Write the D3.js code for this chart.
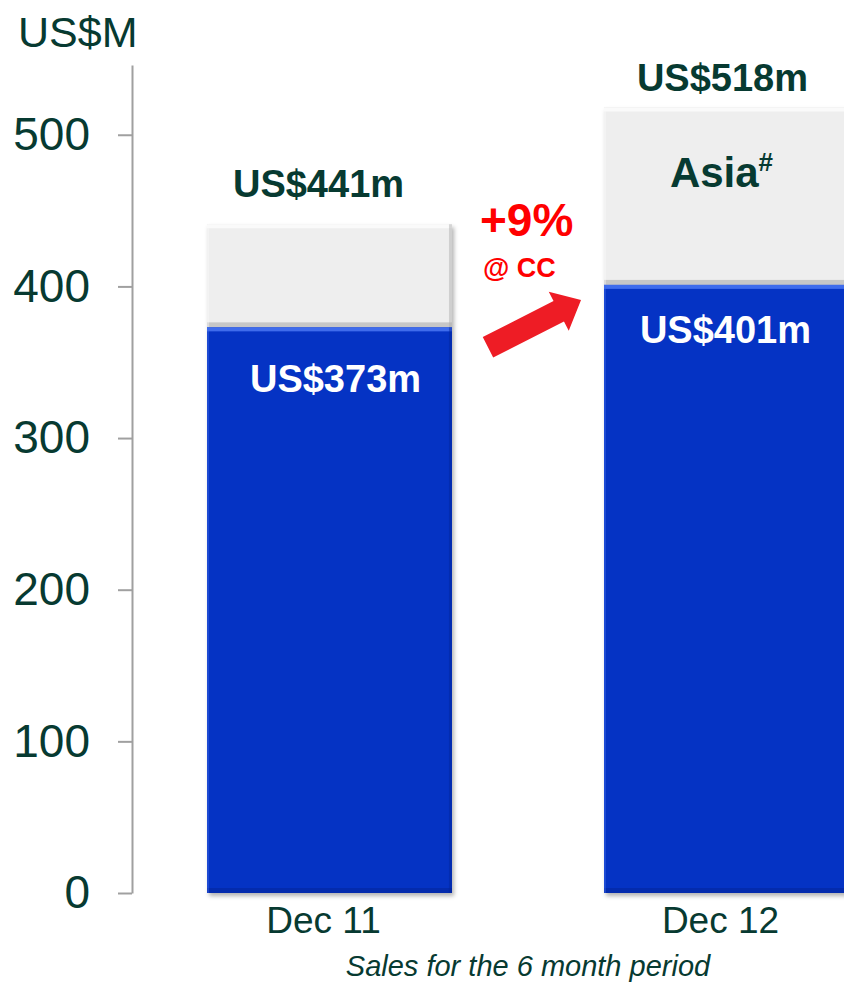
<!DOCTYPE html>
<html>
<head>
<meta charset="utf-8">
<script src="https://cdn.jsdelivr.net/npm/d3@7"></script>
<style>
  html, body { margin: 0; padding: 0; background: #fff; }
  svg { display: block; font-family: "Liberation Sans", Arial, sans-serif; }
</style>
</head>
<body>
<svg class="chart"></svg>
<script>
// data
var periods = ['Dec 11', 'Dec 12'];
var coreSales = [373, 401];      // blue part
var asiaSales = [68, 117];       // grey part (Asia#)
var totalSales = [441, 518];
var yTicks = [0, 100, 200, 300, 400, 500];
var growthText = '+9%';
var growthNote = '@ CC';

var textColor = '#073a31';
var blue = '#0533c4';
var grey = '#eeeeee';

var width = 844, height = 984;

var svg = d3.select('.chart')
    .attr('width', width)
    .attr('height', height);

var defs = svg.append('defs');

var shadow = defs.append('filter')
    .attr('id', 'shadow')
    .attr('x', '-10%').attr('y', '-10%')
    .attr('width', '130%').attr('height', '130%');
shadow.append('feDropShadow')
    .attr('dx', 2).attr('dy', 3)
    .attr('stdDeviation', 2)
    .attr('flood-color', '#000')
    .attr('flood-opacity', 0.3);

// y – sales scale
var y = d3.scaleLinear()
    .domain([0, 546])
    .range([893, 65]);

// x – period scale
var x = d3.scaleBand()
    .domain(periods)
    .range([132, 924])
    .paddingInner(0.383)
    .paddingOuter(0.189);

var yAxis = d3.axisLeft(y)
    .tickValues(yTicks)
    .tickSize(14)
    .tickSizeOuter(0)
    .tickPadding(28);

var axis = svg.append('g')
    .attr('class', 'y axis')
    .attr('transform', 'translate(132,0)')
    .call(yAxis);

axis.selectAll('path, line')
    .attr('stroke', '#a0a0a0')
    .attr('stroke-width', 2);
axis.selectAll('text')
    .attr('fill', textColor)
    .style('font-family', '"Liberation Sans", Arial, sans-serif')
    .style('font-size', '46px');

svg.append('text')
    .attr('x', 18)
    .attr('y', 47)
    .attr('fill', textColor)
    .style('font-size', '43px')
    .text('US$M');

// stacked bars
var rows = periods.map(function(p, i) {
  return { period: p, core: coreSales[i], asia: asiaSales[i], total: totalSales[i] };
});

var bars = svg.selectAll('g.bar')
    .data(rows)
  .enter().append('g')
    .attr('class', 'bar');

// draw one bevelled segment
function segment(g, x0, y0, y1, fill, light, dark) {
  var w = x.bandwidth(), h = y1 - y0;
  g.append('rect')
      .attr('x', x0).attr('y', y0)
      .attr('width', w).attr('height', h)
      .attr('fill', fill);
  // top highlight
  g.append('rect')
      .attr('x', x0).attr('y', y0)
      .attr('width', w).attr('height', 4)
      .attr('fill', light);
  // bottom shade
  g.append('rect')
      .attr('x', x0).attr('y', y1 - 5)
      .attr('width', w).attr('height', 5)
      .attr('fill', dark)
      .attr('opacity', 0.55);
  // right edge shade
  g.append('rect')
      .attr('x', x0 + w - 3).attr('y', y0)
      .attr('width', 3).attr('height', h)
      .attr('fill', dark)
      .attr('opacity', 0.45);
  // left edge light
  g.append('rect')
      .attr('x', x0).attr('y', y0)
      .attr('width', 2).attr('height', h)
      .attr('fill', light)
      .attr('opacity', 0.4);
}

bars.each(function(d) {
  var g = d3.select(this);
  var x0 = x(d.period);
  g.append('rect')
      .attr('x', x0).attr('y', y(d.total))
      .attr('width', x.bandwidth())
      .attr('height', y(0) - y(d.total))
      .attr('fill', '#ddd')
      .attr('filter', 'url(#shadow)');
  segment(g, x0, y(d.total), y(d.core), grey, '#fafafa', '#a8a8a8');
  segment(g, x0, y(d.core), y(0), blue, '#3f6cec', '#03249a');
});

// labels
var totalGap = [27, 16];
var totalShift = [-11, -4];
var coreGap = [65, 58];
var coreShift = [6, -1];

bars.append('text')
    .attr('x', function(d, i) { return x(d.period) + x.bandwidth() / 2 + totalShift[i]; })
    .attr('y', function(d, i) { return y(d.total) - totalGap[i]; })
    .attr('text-anchor', 'middle')
    .attr('fill', textColor)
    .style('font-size', '38px')
    .style('font-weight', 'bold')
    .text(function(d) { return 'US$' + d.total + 'm'; });

bars.append('text')
    .attr('x', function(d, i) { return x(d.period) + x.bandwidth() / 2 + coreShift[i]; })
    .attr('y', function(d, i) { return y(d.core) + coreGap[i]; })
    .attr('text-anchor', 'middle')
    .attr('fill', '#fff')
    .style('font-size', '38px')
    .style('font-weight', 'bold')
    .text(function(d) { return 'US$' + d.core + 'm'; });

bars.append('text')
    .attr('x', function(d) { return x(d.period) + x.bandwidth() / 2 - 6; })
    .attr('y', y(0) + 40)
    .attr('text-anchor', 'middle')
    .attr('fill', textColor)
    .style('font-size', '37px')
    .text(function(d) { return d.period; });

// Asia# label on the latest bar
var last = rows[rows.length - 1];
var asia = svg.append('text')
    .attr('x', x(last.period) + x.bandwidth() / 2 - 5)
    .attr('y', y(last.total) + 80)
    .attr('text-anchor', 'middle')
    .attr('fill', textColor)
    .style('font-size', '42px')
    .style('font-weight', 'bold');
asia.append('tspan').text('Asia');
asia.append('tspan')
    .attr('dy', -16)
    .style('font-size', '26px')
    .text('#');

// growth arrow between the blue parts
var first = rows[0];
var start = [x(first.period) + x.bandwidth() + 36, y(first.core) + 20];
var tip = [x(last.period) - 23, y(last.core) + 15];
var dxA = tip[0] - start[0], dyA = tip[1] - start[1];
var len = Math.sqrt(dxA * dxA + dyA * dyA);
var ux = dxA / len, uy = dyA / len;
var px = -uy, py = ux;
var shaftHalf = 11.5, headHalf = 22, headLen = 25;
var base = [tip[0] - ux * headLen, tip[1] - uy * headLen];
var pts = [
  [start[0] + px * shaftHalf, start[1] + py * shaftHalf],
  [base[0] + px * shaftHalf, base[1] + py * shaftHalf],
  [base[0] + px * headHalf, base[1] + py * headHalf],
  tip,
  [base[0] - px * headHalf, base[1] - py * headHalf],
  [base[0] - px * shaftHalf, base[1] - py * shaftHalf],
  [start[0] - px * shaftHalf, start[1] - py * shaftHalf]
];
svg.append('path')
    .attr('d', d3.line()(pts) + 'Z')
    .attr('fill', '#ee1c25');

svg.append('text')
    .attr('x', 480)
    .attr('y', 236)
    .attr('fill', '#ff0000')
    .style('font-size', '46px')
    .style('font-weight', 'bold')
    .text(growthText);

svg.append('text')
    .attr('x', 483)
    .attr('y', 277)
    .attr('fill', '#ff0000')
    .style('font-size', '27px')
    .style('font-weight', 'bold')
    .text(growthNote);

svg.append('text')
    .attr('x', 528)
    .attr('y', 976)
    .attr('text-anchor', 'middle')
    .attr('fill', textColor)
    .style('font-size', '29px')
    .style('font-style', 'italic')
    .text('Sales for the 6 month period');
</script>
</body>
</html>
